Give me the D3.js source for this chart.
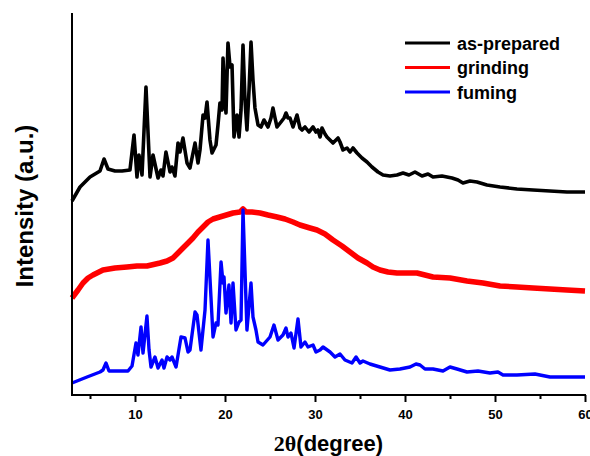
<!DOCTYPE html>
<html>
<head>
<meta charset="utf-8">
<script src="https://cdn.jsdelivr.net/npm/d3@7"></script>
<style>
  html, body { margin: 0; padding: 0; background: #fff; }
  svg { display: block; }
</style>
</head>
<body>
<svg id="chart" width="590" height="456"></svg>
<script>
// ---- data (2θ in degrees, intensity in arbitrary units, curves stacked with offsets) ----
const seriesNames = ["as-prepared", "grinding", "fuming"];
const seriesColors = ["#000000", "#ff0000", "#0000ff"];

const asPrepared2Theta = [3.0,3.89,5.0,6.11,6.56,7.0,7.78,8.56,9.44,9.89,10.22,10.44,10.78,11.22,11.67,12.0,12.56,12.89,13.11,13.44,13.89,14.11,14.44,14.78,15.0,15.33,15.78,16.11,16.67,17.0,17.22,17.56,17.78,18.0,18.33,18.56,19.0,19.22,19.44,19.67,19.78,20.0,20.11,20.33,20.56,20.78,21.0,21.33,21.56,21.78,22.0,22.22,22.44,22.67,22.89,23.11,23.33,23.67,24.0,24.33,24.78,25.11,25.33,25.56,25.78,26.22,26.56,26.78,27.0,27.22,27.56,28.0,28.33,28.56,28.89,29.33,29.78,30.11,30.33,30.56,30.78,31.11,31.33,32.0,32.56,32.78,33.11,33.56,33.89,34.22,34.67,35.22,35.78,36.33,37.0,37.56,38.33,39.11,39.78,40.44,41.11,41.89,42.56,43.11,44.11,45.22,45.89,46.44,47.22,48.0,49.11,50.56,52.44,54.22,56.11,58.0,60.0];
const asPreparedI = [194,208,218,224,236,226,224,224,225,260,218,240,220,308,218,240,217,225,219,243,223,228,219,252,243,257,232,227,252,232,245,280,277,293,255,242,250,270,292,285,337,295,282,352,328,330,258,280,258,285,350,295,265,305,353,315,287,270,268,275,268,277,287,277,268,273,277,282,277,277,268,280,267,265,268,263,268,263,265,258,267,261,258,252,257,253,245,247,243,247,242,237,233,228,223,220,219,220,222,220,223,219,221,218,219,217,215,212,214,213,210,208,206,205,204,203,203];

const grinding2Theta = [3.0,3.67,4.22,4.78,5.33,6.44,7.78,9.11,10.22,11.33,12.78,13.56,14.22,14.78,15.33,15.89,16.44,17.0,17.56,18.11,18.67,19.78,20.89,21.67,22.0,22.33,23.0,23.89,24.78,25.78,26.67,27.56,28.33,29.44,30.22,31.11,32.0,33.0,33.89,34.78,35.78,36.44,37.22,38.11,39.11,40.0,41.33,42.22,43.11,45.0,46.89,48.67,50.56,52.44,54.22,56.11,58.0,60.0];
const grindingI = [97,105,112,117,120,125,127,128,129,129,132,134,137,142,147,152,157,163,168,173,176,179,182,183,186,183,183,182,180,178,176,173,170,167,165,161,155,149,143,137,132,128,125,123,122,122,122,120,118,117,114,112,109,108,107,106,105,104];

const fuming2Theta = [3.0,4.67,6.11,6.44,6.78,7.11,8.11,9.22,9.67,10.11,10.33,10.67,10.89,11.33,11.56,11.78,12.22,12.56,13.0,13.22,13.56,13.89,14.11,14.56,15.11,15.56,15.89,16.11,16.67,16.89,17.33,17.78,18.11,18.44,18.67,19.0,19.22,19.56,19.78,19.89,20.11,20.44,20.67,20.89,21.22,21.56,21.78,22.0,22.22,22.44,22.89,23.11,23.44,23.67,24.22,25.0,25.44,25.89,26.44,26.78,27.0,27.33,27.67,28.11,28.44,28.89,29.22,29.78,30.11,30.56,30.89,31.67,32.22,32.78,33.33,34.11,34.56,35.0,35.33,36.11,37.22,38.33,39.44,40.56,41.22,41.67,42.22,43.11,44.22,45.0,45.78,46.89,48.11,49.44,50.33,50.89,52.44,54.44,56.11,58.0,60.0];
const fumingI = [12,18,23,25,32,24,24,24,29,52,40,68,42,79,45,28,38,27,35,27,38,35,38,28,58,57,43,45,83,80,45,85,155,98,58,72,70,133,112,118,82,110,72,112,65,73,75,185,125,65,112,78,65,53,50,58,70,55,60,67,58,62,47,76,48,53,48,50,43,45,48,43,38,41,35,32,38,32,34,31,28,25,26,28,31,30,26,26,24,28,26,23,24,22,23,20,20,21,18,18,18];

const xTicksMajor = [10, 20, 30, 40, 50, 60];
const xTicksMinor = [5, 15, 25, 35, 45, 55];
const xTitleMain = "2θ";
const xTitleRest = "(degree)";
const yTitle = "Intensity (a.u.)";

// ---- layout ----
const svg = d3.select("#chart");
const padL = 72, padR = 585, padT = 13, padB = 395;
const x = d3.scaleLinear().domain([3, 60]).range([padL, padR]);
const y = d3.scaleLinear().domain([0, 382]).range([padB, padT]);

const series = [
  { name: seriesNames[0], color: seriesColors[0], xs: asPrepared2Theta, ys: asPreparedI, w: 3.6 },
  { name: seriesNames[1], color: seriesColors[1], xs: grinding2Theta, ys: grindingI, w: 5.5 },
  { name: seriesNames[2], color: seriesColors[2], xs: fuming2Theta, ys: fumingI, w: 3.4 }
];

const line = d3.line().x(d => x(d[0])).y(d => y(d[1])).curve(d3.curveLinear);

svg.append("g").selectAll("path")
  .data(series)
  .join("path")
  .attr("d", s => line(s.xs.map((v, i) => [v, s.ys[i]])))
  .attr("fill", "none")
  .attr("stroke", s => s.color)
  .attr("stroke-width", s => s.w)
  .attr("stroke-linejoin", "round")
  .attr("stroke-linecap", "butt");

// ---- axes ----
const font = "Arial, 'Liberation Sans', sans-serif";
const xAxis = d3.axisBottom(x).tickValues(xTicksMajor).tickSize(7).tickSizeOuter(0).tickFormat(d3.format("d"));
const gx = svg.append("g").attr("transform", `translate(0,${padB})`).call(xAxis);
gx.select(".domain").attr("stroke", "#000").attr("stroke-width", 2).attr("d", `M${padL - 1},0H${padR + 1}`);
gx.selectAll(".tick line").attr("stroke", "#000").attr("stroke-width", 2);
gx.selectAll(".tick text").attr("font-family", font).attr("font-weight", "bold").attr("font-size", 13).attr("fill", "#000").attr("dy", "1.05em");

const xAxisMinor = d3.axisBottom(x).tickValues(xTicksMinor).tickSize(4).tickSizeOuter(0).tickFormat("");
const gxm = svg.append("g").attr("transform", `translate(0,${padB})`).call(xAxisMinor);
gxm.select(".domain").remove();
gxm.selectAll(".tick line").attr("stroke", "#000").attr("stroke-width", 2);

const yAxis = d3.axisLeft(y).tickValues([]).tickSizeOuter(0);
const gy = svg.append("g").attr("transform", `translate(${padL},0)`).call(yAxis);
gy.select(".domain").attr("stroke", "#000").attr("stroke-width", 2).attr("d", `M0,${padT}V${padB + 1}`);

// ---- titles ----
const xt = svg.append("text").attr("x", (padL + padR) / 2).attr("y", 451)
  .attr("text-anchor", "middle").attr("font-weight", "bold").attr("font-size", 22).attr("fill", "#000");
xt.append("tspan").attr("font-family", "'Times New Roman', 'Liberation Serif', serif").text(xTitleMain);
xt.append("tspan").attr("font-family", font).text(xTitleRest);

svg.append("text")
  .attr("transform", `translate(33,${(padT + padB) / 2 + 2}) rotate(-90)`)
  .attr("text-anchor", "middle").attr("font-family", font).attr("font-weight", "bold")
  .attr("font-size", 24).attr("fill", "#000").text(yTitle);

// ---- legend ----
const legend = svg.append("g").attr("transform", "translate(405,43)");
const li = legend.selectAll("g").data(series).join("g").attr("transform", (d, i) => `translate(0,${i * 24.5})`);
li.append("line").attr("x1", 0).attr("x2", 45).attr("y1", 0).attr("y2", 0)
  .attr("stroke", d => d.color).attr("stroke-width", 3);
li.append("text").attr("x", 52).attr("y", 6.5).attr("font-family", font).attr("font-weight", "bold")
  .attr("font-size", 18).attr("fill", "#000").text(d => d.name);
</script>
</body>
</html>
